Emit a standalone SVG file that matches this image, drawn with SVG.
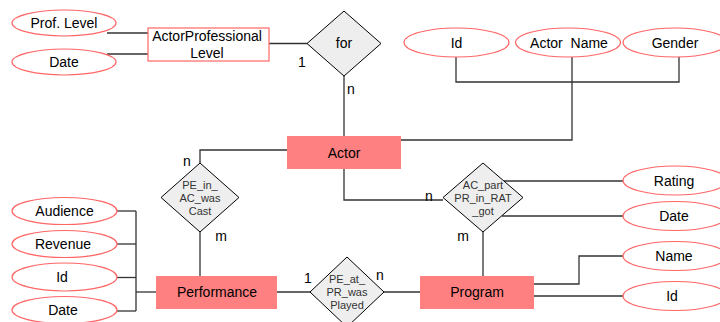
<svg xmlns="http://www.w3.org/2000/svg" width="720" height="322" viewBox="0 0 720 322">
<style>
text{font-family:"Liberation Sans",Arial,sans-serif;font-size:14px;fill:#000;text-anchor:middle}
.sm{font-size:11px;fill:#333}
.ent{fill:#FF8080;stroke:none}
.wrect{fill:#fff;stroke:#FF6666;stroke-width:1.2}
.attr{fill:#fff;stroke:#FF6666;stroke-width:1.2}
.rel{fill:#EEEEEE;stroke:#000;stroke-width:1}
.conn{fill:none;stroke:#333;stroke-width:1.3}
</style>
<rect width="720" height="322" fill="#fff"/>
<g id="connectors">
<polyline class="conn" points="107,33 148,33"/>
<polyline class="conn" points="107,54 148,54"/>
<polyline class="conn" points="269,43.5 307,43.5"/>
<polyline class="conn" points="344,76 344,136"/>
<polyline class="conn" points="456,57 456,82 679,82 679,57"/>
<polyline class="conn" points="572,57 572,140 401,140"/>
<polyline class="conn" points="344,169 344,200 443,200"/>
<polyline class="conn" points="200,163 200,150 287,150"/>
<polyline class="conn" points="200,232 200,276"/>
<polyline class="conn" points="117,211 136,211"/>
<polyline class="conn" points="117,244 136,244"/>
<polyline class="conn" points="117,277.5 136,277.5"/>
<polyline class="conn" points="117,311 136,311"/>
<polyline class="conn" points="136,211 136,311"/>
<polyline class="conn" points="136,292 156,292"/>
<polyline class="conn" points="277,292 310,292"/>
<polyline class="conn" points="384,292 420,292"/>
<polyline class="conn" points="483,232 483,276"/>
<polyline class="conn" points="504,181 623,181"/>
<polyline class="conn" points="502,216 623,216"/>
<polyline class="conn" points="534,284 579,284 579,256 623,256"/>
<polyline class="conn" points="534,296 623,296"/>
<text x="302" y="67">1</text>
<text x="351" y="94">n</text>
<text x="187" y="166">n</text>
<text x="221" y="241">m</text>
<text x="429" y="201">n</text>
<text x="463" y="241">m</text>
<text x="308" y="283">1</text>
<text x="380" y="280">n</text>
</g>
<g id="prof-level"><ellipse class="attr" cx="64" cy="23" rx="52" ry="13"/><text x="64" y="28">Prof. Level</text></g>
<g id="apl-date"><ellipse class="attr" cx="64" cy="62" rx="52" ry="13"/><text x="64" y="67">Date</text></g>
<g id="actor-professional-level"><rect class="wrect" x="148" y="28" width="121" height="33"/><text x="207" y="41">ActorProfessional</text><text x="207" y="58">Level</text></g>
<g id="for"><polygon class="rel" points="344,11 381,43.5 344,76 307,43.5"/><text x="344" y="48">for</text></g>
<g id="actor-id"><ellipse class="attr" cx="456.5" cy="42.5" rx="52.5" ry="14.5"/><text x="456.5" y="47.5">Id</text></g>
<g id="actor-name"><ellipse class="attr" cx="568" cy="42.5" rx="52.5" ry="14.5"/><text x="569" y="47.5" xml:space="preserve">Actor  Name</text></g>
<g id="gender"><ellipse class="attr" cx="675" cy="42.5" rx="52" ry="14.5"/><text x="675" y="47.5">Gender</text></g>
<g id="actor"><rect class="ent" x="287" y="136" width="114" height="33"/><text x="344" y="157.5">Actor</text></g>
<g id="pe-in-ac"><polygon class="rel" points="200,163 239,197.5 200,232 161,197.5"/><text class="sm" x="200" y="189">PE_in_</text><text class="sm" x="200" y="202">AC_was</text><text class="sm" x="200" y="215">Cast</text></g>
<g id="ac-part"><polygon class="rel" points="483,163 523,197.5 483,232 443,197.5"/><text class="sm" x="483" y="189">AC_part</text><text class="sm" x="483" y="202">PR_in_RAT</text><text class="sm" x="483" y="215">_got</text></g>
<g id="rating"><ellipse class="attr" cx="675" cy="180.5" rx="52" ry="14.5"/><text x="674" y="185.5">Rating</text></g>
<g id="rat-date"><ellipse class="attr" cx="675" cy="216" rx="52" ry="14.5"/><text x="674" y="221">Date</text></g>
<g id="prog-name"><ellipse class="attr" cx="675" cy="256" rx="52" ry="14.5"/><text x="674" y="261">Name</text></g>
<g id="prog-id"><ellipse class="attr" cx="675" cy="296" rx="52" ry="14.5"/><text x="672" y="301">Id</text></g>
<g id="audience"><ellipse class="attr" cx="64.5" cy="211" rx="52.5" ry="13.5"/><text x="64.5" y="216">Audience</text></g>
<g id="revenue"><ellipse class="attr" cx="64.5" cy="244" rx="52.5" ry="13.5"/><text x="63" y="249">Revenue</text></g>
<g id="perf-id"><ellipse class="attr" cx="64.5" cy="277" rx="52.5" ry="14"/><text x="62" y="282">Id</text></g>
<g id="perf-date"><ellipse class="attr" cx="64.5" cy="310" rx="52.5" ry="13.5"/><text x="63" y="315">Date</text></g>
<g id="performance"><rect class="ent" x="156" y="276" width="121" height="33"/><text x="217" y="297">Performance</text></g>
<g id="pe-at-pr"><polygon class="rel" points="347,257 384,292 347,327 310,292"/><text class="sm" x="347" y="283">PE_at_</text><text class="sm" x="347" y="296">PR_was</text><text class="sm" x="347" y="309">Played</text></g>
<g id="program"><rect class="ent" x="420" y="276" width="114" height="33"/><text x="477" y="297">Program</text></g>
</svg>
